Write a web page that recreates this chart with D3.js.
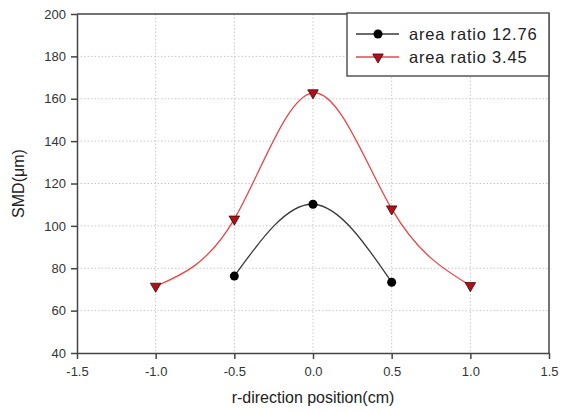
<!DOCTYPE html>
<html>
<head>
<meta charset="utf-8">
<script src="https://cdn.jsdelivr.net/npm/d3@7"></script>
<style>
  body { margin: 0; background: #fff; }
  text { font-family: Arial, "Liberation Sans", sans-serif; }
</style>
</head>
<body>
<svg width="565" height="414"></svg>
<script>
// data
let xPos12 = [-0.5, 0.0, 0.5];
let smd12 = [76.3, 110.2, 73.4];
let xPos345 = [-1.0, -0.5, 0.0, 0.5, 1.0];
let smd345 = [71.5, 103.2, 162.8, 108.0, 71.8];
let seriesNames = ['area ratio 12.76', 'area ratio 3.45'];
let xTicks = [-1.5, -1.0, -0.5, 0.0, 0.5, 1.0, 1.5];
let yTicks = [40, 60, 80, 100, 120, 140, 160, 180, 200];

let margin = {top: 14, right: 16, bottom: 61, left: 77};
let width = 565 - margin.left - margin.right;
let height = 414 - margin.top - margin.bottom;

let xScale = d3.scaleLinear().domain([-1.5, 1.5]).range([0, width]);
let yScale = d3.scaleLinear().domain([40, 200]).range([height, 0]);

let svg = d3.select('svg')
  .append('g')
  .attr('transform', `translate(${margin.left},${margin.top})`);

// grid
svg.append('g').selectAll('line')
  .data(yTicks.slice(1, -1))
  .enter().append('line')
  .attr('x1', 0).attr('x2', width)
  .attr('y1', d => yScale(d)).attr('y2', d => yScale(d))
  .attr('stroke', '#c8c8c8').attr('stroke-dasharray', '1.5,2');
svg.append('g').selectAll('line')
  .data(xTicks.slice(1, -1))
  .enter().append('line')
  .attr('y1', 0).attr('y2', height)
  .attr('x1', d => xScale(d)).attr('x2', d => xScale(d))
  .attr('stroke', '#c8c8c8').attr('stroke-dasharray', '1.5,2');

// axes
let xAxis = svg.append('g')
  .attr('transform', `translate(0,${height})`)
  .call(d3.axisBottom(xScale).tickValues(xTicks).tickFormat(d3.format('.1f')).tickSizeOuter(0).tickSizeInner(6).tickPadding(8));
let yAxis = svg.append('g')
  .call(d3.axisLeft(yScale).tickValues(yTicks).tickFormat(d3.format('d')).tickSizeOuter(0).tickSizeInner(6).tickPadding(5));
[xAxis, yAxis].forEach(a => {
  a.selectAll('path, line').attr('stroke', '#444').attr('stroke-width', 1.5);
  a.selectAll('text').attr('fill', '#333').style('font-size', '13px');
});
xAxis.selectAll('text').text(d => d < 0 ? '-' + d3.format('.1f')(-d) : d3.format('.1f')(d));

// frame top/right
svg.append('path')
  .attr('d', `M0,0H${width}V${height}`)
  .attr('fill', 'none').attr('stroke', '#444').attr('stroke-width', 1.5);

let line = d3.line()
  .x(d => xScale(d[0]))
  .y(d => yScale(d[1]))
  .curve(d3.curveNatural);

let pts12 = xPos12.map((x, i) => [x, smd12[i]]);
let pts345 = xPos345.map((x, i) => [x, smd345[i]]);

svg.append('path').datum(pts345).attr('d', line)
  .attr('fill', 'none').attr('stroke', '#e8474a').attr('stroke-width', 1.3);
svg.append('path').datum(pts12).attr('d', line)
  .attr('fill', 'none').attr('stroke', '#3a3a3a').attr('stroke-width', 1.3);

let tri = d3.symbol().type(d3.symbolTriangle).size(48);

svg.selectAll('.tri')
  .data(pts345)
  .enter().append('path')
  .attr('class', 'tri')
  .attr('d', tri)
  .attr('transform', d => `translate(${xScale(d[0])},${yScale(d[1])}) rotate(180)`)
  .attr('fill', '#b0101a').attr('stroke', '#3a0a0a').attr('stroke-width', 0.8);

svg.selectAll('.dot')
  .data(pts12)
  .enter().append('circle')
  .attr('class', 'dot')
  .attr('r', 4.5)
  .attr('cx', d => xScale(d[0]))
  .attr('cy', d => yScale(d[1]))
  .attr('fill', '#000');

// legend
let lg = svg.append('g').attr('transform', `translate(${347 - margin.left},${13 - margin.top})`);
lg.append('rect')
  .attr('width', 202).attr('height', 63)
  .attr('fill', '#fff').attr('stroke', '#555').attr('stroke-width', 1.5);
let rows = [
  {name: seriesNames[0], color: '#3a3a3a'},
  {name: seriesNames[1], color: '#e8474a'}
];
rows.forEach((r, i) => {
  let y = 21 + i * 23;
  lg.append('line').attr('x1', 9).attr('x2', 52).attr('y1', y).attr('y2', y)
    .attr('stroke', r.color).attr('stroke-width', 1.3);
  if (i === 0) {
    lg.append('circle').attr('cx', 31).attr('cy', y).attr('r', 4.5).attr('fill', '#000');
  } else {
    lg.append('path').attr('d', tri)
      .attr('transform', `translate(31,${y}) rotate(180)`)
      .attr('fill', '#b0101a').attr('stroke', '#3a0a0a').attr('stroke-width', 0.8);
  }
  lg.append('text').attr('x', 62).attr('y', y + 6)
    .attr('fill', '#222').style('font-size', '16.5px').style('letter-spacing', '0.8px').text(r.name);
});

// axis labels
svg.append('text')
  .attr('x', width / 2).attr('y', height + 50)
  .attr('text-anchor', 'middle').attr('fill', '#222')
  .style('font-size', '16px').text('r-direction position(cm)');
svg.append('text')
  .attr('transform', `translate(${-53},${height / 2}) rotate(-90)`)
  .attr('text-anchor', 'middle').attr('fill', '#222')
  .style('font-size', '16px').text('SMD(\u03bcm)');
</script>
</body>
</html>
